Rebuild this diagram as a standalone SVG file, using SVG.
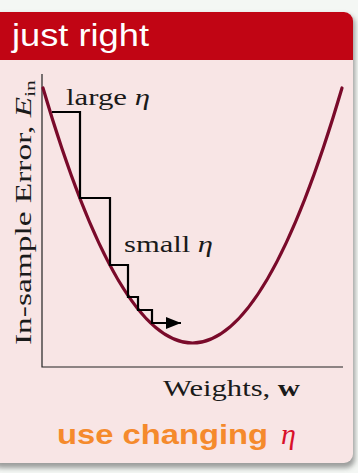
<svg xmlns="http://www.w3.org/2000/svg" width="358" height="473" viewBox="0 0 358 473">
<defs>
<style>
.serif{font-family:"Liberation Serif","DejaVu Serif",serif;fill:#1a1a1a}
.ax{stroke:#222;stroke-width:1.2;fill:none}
.step{stroke:#000;stroke-width:2.2;fill:none}
</style>
<marker id="ah" markerWidth="16" markerHeight="12" refX="15" refY="6" orient="auto" markerUnits="userSpaceOnUse" viewBox="0 0 16 12">
<path d="M0,0 L15,6 L0,12 Z" fill="#000"/>
</marker>
<filter id="sh" x="-5%" y="-5%" width="115%" height="115%">
<feGaussianBlur stdDeviation="2.5"/>
</filter>
</defs>
<rect width="358" height="473" fill="#f4f7f4"/>
<g id="panel">
<rect x="-8" y="15" width="363" height="453" rx="9" fill="#555" opacity="0.55" filter="url(#sh)"/>
<rect x="-8" y="12" width="361" height="451" rx="9" fill="#f8e5e5"/>
<path d="M-8,60 V21 A9,9 0 0 1 1,12 H344 A9,9 0 0 1 353,21 V60 Z" fill="#c10514"/>
<text x="12" y="46" font-family="Liberation Sans,Arial,sans-serif" font-size="32" fill="#fff" textLength="137" lengthAdjust="spacingAndGlyphs">just right</text>
</g>
<g id="axes">
<path class="ax" d="M42,74 V367 H343"/>
<text class="serif" font-size="23" transform="translate(31,345) rotate(-90)" textLength="265" lengthAdjust="spacingAndGlyphs">In-sample Error, <tspan font-style="italic">E</tspan><tspan font-size="15" dy="4">in</tspan></text>
<text class="serif" x="163" y="396" font-size="24" textLength="137" lengthAdjust="spacingAndGlyphs">Weights, <tspan font-weight="bold">w</tspan></text>
</g>
<g id="curve">
<path d="M43,88 Q192.5,598 342,88" fill="none" stroke="#7a0a2a" stroke-width="3.2" stroke-linecap="round"/>
</g>
<g id="connectors">
<path class="step" d="M52,112 H80 V198 H110 V265 H128 V297 H138 V310 H152 V323 H181" marker-end="url(#ah)"/>
</g>
<g id="labels">
<text class="serif" x="66" y="105" font-size="24" textLength="84" lengthAdjust="spacingAndGlyphs">large <tspan font-style="italic">η</tspan></text>
<text class="serif" x="124" y="252" font-size="24" textLength="89" lengthAdjust="spacingAndGlyphs">small <tspan font-style="italic">η</tspan></text>
<text x="57" y="444" font-family="Liberation Sans,Arial,sans-serif" font-size="28" font-weight="bold" fill="#f58a2c" textLength="211" lengthAdjust="spacingAndGlyphs">use changing</text>
<text x="281" y="444" font-family="Liberation Serif,serif" font-size="30" font-style="italic" fill="#d8102a">η</text>
</g>
</svg>
